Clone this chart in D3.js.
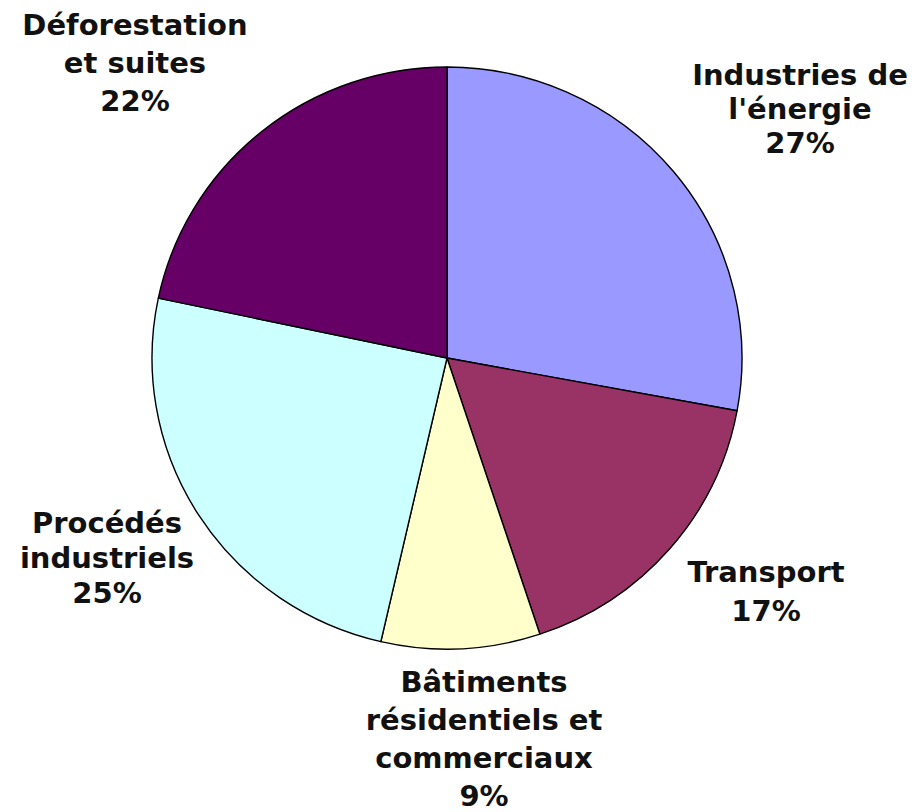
<!DOCTYPE html>
<html>
<head>
<meta charset="utf-8">
<script src="https://cdn.jsdelivr.net/npm/d3@7/dist/d3.min.js"></script>
<style>
  html, body { margin: 0; padding: 0; background: #ffffff; }
  svg { display: block; }
</style>
</head>
<body>
<svg id="chart" width="918" height="812"></svg>
<script>
// ---- data ----
const categories = [
  "Industries de l'énergie",
  "Transport",
  "Bâtiments résidentiels et commerciaux",
  "Procédés industriels",
  "Déforestation et suites"
];
const values = [27.9, 17.0, 8.7, 24.7, 21.7];
const percentLabels = ["27%", "17%", "9%", "25%", "22%"];
const labelLines = [
  ["Industries de", "l'énergie"],
  ["Transport"],
  ["Bâtiments", "résidentiels et", "commerciaux"],
  ["Procédés", "industriels"],
  ["Déforestation", "et suites"]
];
const colors = ["#9999FF", "#993366", "#FFFFCC", "#CCFFFF", "#660066"];

// ---- layout ----
const W = 918, H = 812;
const cx = 447, cy = 358, rx = 295, ry = 291;
// label block centres relative to pie centre (x) and first baseline (y)
const labelOffsets = [
  { dx: 353, y0: 85,  lh: 34 },
  { dx: 319, y0: 582, lh: 39 },
  { dx: 37,  y0: 692, lh: 38 },
  { dx: -340, y0: 533, lh: 35 },
  { dx: -312, y0: 35,  lh: 38 }
];

const svg = d3.select("#chart");
const data = categories.map((c, i) => ({ cat: c, value: values[i], pct: percentLabels[i], lines: labelLines[i], color: colors[i] }));

const pie = d3.pie().value(d => d.value).sort(null).startAngle(0).endAngle(2 * Math.PI);
const arc = d3.arc().innerRadius(0).outerRadius(rx);

const g = svg.append("g").attr("transform", `translate(${cx},${cy}) scale(1,${ry / rx})`);
g.selectAll("path")
  .data(pie(data))
  .join("path")
  .attr("d", arc)
  .attr("fill", d => d.data.color)
  .attr("stroke", "#000")
  .attr("stroke-width", 1.4)
  .attr("stroke-linejoin", "round");

const labels = svg.append("g")
  .attr("font-family", "'DejaVu Sans', Verdana, sans-serif")
  .attr("font-weight", "bold")
  .attr("font-size", 29)
  .attr("fill", "#111")
  .attr("text-anchor", "middle");

data.forEach((d, i) => {
  const o = labelOffsets[i];
  const t = labels.append("text").attr("x", cx + o.dx).attr("y", o.y0);
  const all = d.lines.concat([d.pct]);
  all.forEach((line, j) => {
    t.append("tspan").attr("x", cx + o.dx).attr("y", o.y0 + j * o.lh).text(line);
  });
});
</script>
</body>
</html>
